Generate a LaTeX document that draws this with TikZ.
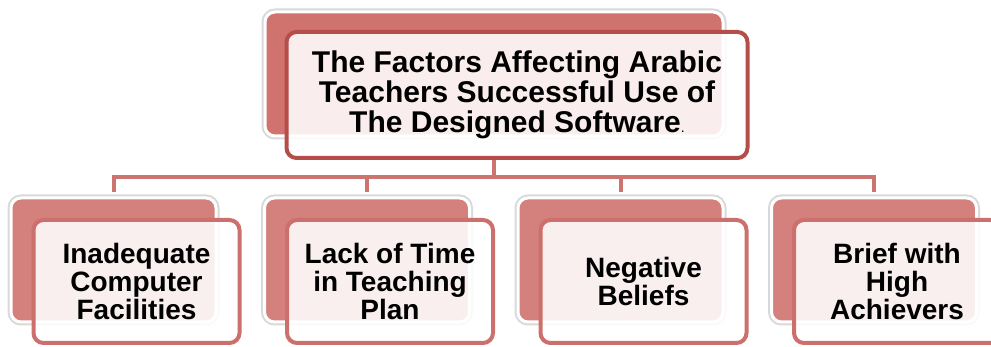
\documentclass[tikz,border=0pt]{standalone}
\usepackage{fontspec}
\setmainfont{Liberation Sans}
\usetikzlibrary{positioning}
\definecolor{backred}{RGB}{212,128,124}
\definecolor{topback}{RGB}{208,114,110}
\definecolor{frontred}{RGB}{203,112,108}
\definecolor{topred}{RGB}{181,78,73}
\definecolor{linkred}{RGB}{204,116,111}
\begin{document}
\begin{tikzpicture}[x=1pt,y=-1pt,
    backbox/.style={rounded corners=10pt, fill=backred, draw=white, line width=3pt,
        preaction={draw=black!15, line width=7pt}, inner sep=0pt},
    frontbox/.style={rounded corners=10pt, fill=white, fill opacity=0.88, text opacity=1,
        draw=frontred, line width=4pt, align=center, inner sep=0pt,
        font=\bfseries\fontsize{28}{28}\selectfont},
    link/.style={draw=linkred, line width=4pt}]
    \useasboundingbox (0,0) rectangle (991,347);
    % top
    \node[backbox, fill=topback, minimum width=458pt, minimum height=124pt] (back0) at (494,74) {};
    \node[frontbox, draw=topred, minimum width=461pt, minimum height=126pt,
        font=\bfseries\fontsize{30}{30}\selectfont] (front0) at (517,95)
        {The Factors Affecting Arabic\\Teachers Successful Use of\\The Designed Software{\mdseries\fontsize{14}{14}\selectfont.}};
    % bottom row
    \foreach \i/\x/\txt in {1/113.5/{Inadequate\\Computer\\Facilities},2/367/{Lack of Time\\in Teaching\\Plan},3/620.5/{Negative\\Beliefs},4/874/{Brief with\\High\\Achievers}}
    {
        \node[backbox, minimum width=205pt, minimum height=124pt] (back\i) at (\x,260) {};
        \node[frontbox, minimum width=206pt, minimum height=123pt] (front\i) at (\x+23,281.5) {\txt};
        \draw[link] (front0.south -| back0.center) -- ++(0,17) -| ([yshift=4pt]back\i.north);
    }
\end{tikzpicture}
\end{document}
